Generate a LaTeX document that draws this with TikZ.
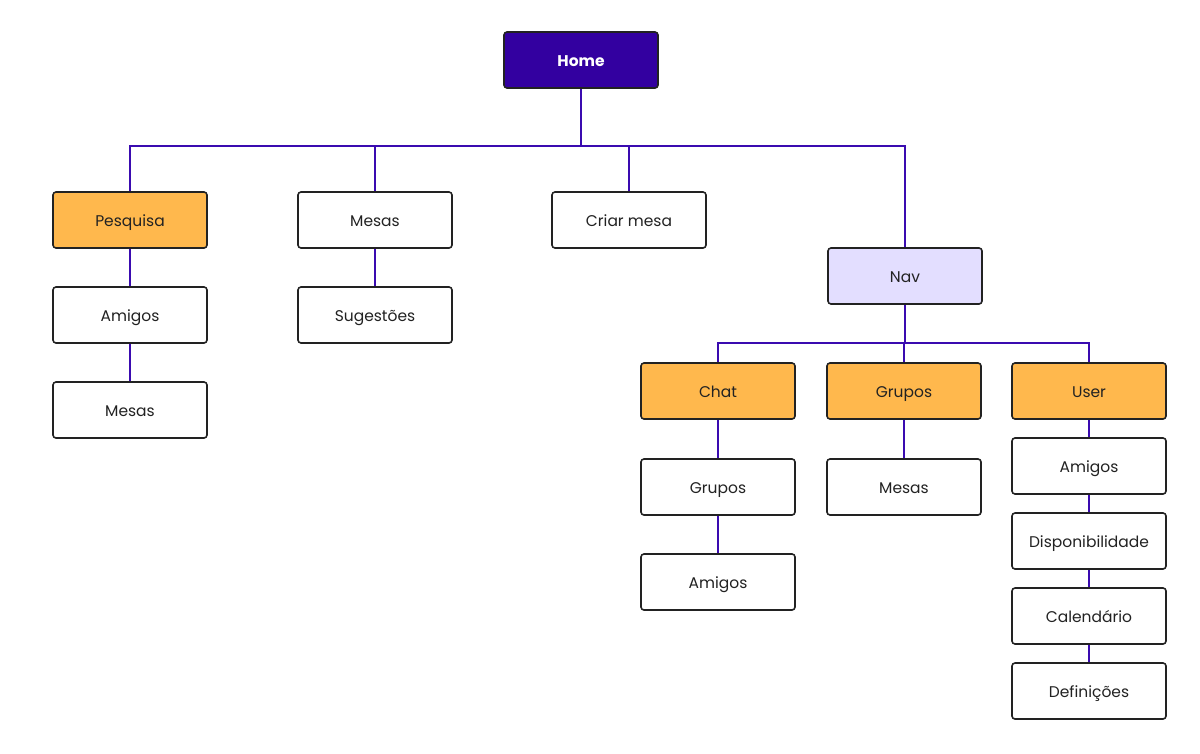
\documentclass[tikz,border=0pt]{standalone}
\usepackage{fontspec}
\setmainfont{Poppins}
\usetikzlibrary{positioning,calc}

\definecolor{homeblue}{HTML}{3300A0}
\definecolor{boxorange}{HTML}{FFB84D}
\definecolor{navlilac}{HTML}{E3DEFF}
\definecolor{linkviolet}{HTML}{3A0BB0}
\definecolor{inkgray}{HTML}{222222}

\begin{document}
\begin{tikzpicture}[x=1pt,y=-1pt,
    page/.style={draw=inkgray,line width=1.6pt,rounded corners=3pt,fill=white,
      minimum width=154pt,minimum height=56pt,text=inkgray,
      text height=12pt,text depth=0pt,font=\fontsize{15.5}{18}\selectfont},
    hub/.style={page,fill=boxorange},
    navbox/.style={page,fill=navlilac},
    root/.style={page,fill=homeblue,text=white,font=\fontsize{15.5}{18}\selectfont\bfseries},
    link/.style={draw=linkviolet,line width=1.8pt}]
  \useasboundingbox (0,0) rectangle (1200,753);

  % top level
  \node[root] (home) at (581,60) {Home};
  \node[hub]  (pesq) at (130,220) {Pesquisa};
  \node[page] (mesas) at (375,220) {Mesas};
  \node[page] (criar) at (629,220) {Criar mesa};
  \node[navbox] (nav) at (905,276) {Nav};

  % pesquisa branch
  \node[page] (pamigos) at (130,315) {Amigos};
  \node[page] (pmesas) at (130,410) {Mesas};
  % mesas branch
  \node[page] (sugest) at (375,315) {Sugestões};

  % nav branch
  \node[hub] (chat) at (718,391) {Chat};
  \node[hub] (grupos) at (904,391) {Grupos};
  \node[hub] (user) at (1089,391) {User};
  \node[page] (cgrupos) at (718,487) {Grupos};
  \node[page] (camigos) at (718,582) {Amigos};
  \node[page] (gmesas) at (904,487) {Mesas};
  \node[page] (uamigos) at (1089,466) {Amigos};
  \node[page] (udisp) at (1089,541) {Disponibilidade};
  \node[page] (ucal) at (1089,616) {Calendário};
  \node[page] (udef) at (1089,691) {Definições};

  \coordinate (hbus) at (581,146);
  \coordinate (nbus) at (905,343);

  \begin{scope}[on background layer/.try]
    \draw[link] (home.south) -- (hbus);
    \draw[link] (pesq.north) |- (hbus) -| (nav.north);
    \draw[link] (mesas.north) -- (mesas.north |- hbus);
    \draw[link] (criar.north) -- (criar.north |- hbus);
    \draw[link] (pesq.south) -- (pamigos.north);
    \draw[link] (pamigos.south) -- (pmesas.north);
    \draw[link] (mesas.south) -- (sugest.north);
    \draw[link] (nav.south) -- (nbus);
    \draw[link] (chat.north) |- (nbus) -| (user.north);
    \draw[link] (grupos.north) -- (grupos.north |- nbus);
    \draw[link] (chat.south) -- (cgrupos.north);
    \draw[link] (cgrupos.south) -- (camigos.north);
    \draw[link] (grupos.south) -- (gmesas.north);
    \draw[link] (user.south) -- (uamigos.north);
    \draw[link] (uamigos.south) -- (udisp.north);
    \draw[link] (udisp.south) -- (ucal.north);
    \draw[link] (ucal.south) -- (udef.north);
  \end{scope}
\end{tikzpicture}
\end{document}
